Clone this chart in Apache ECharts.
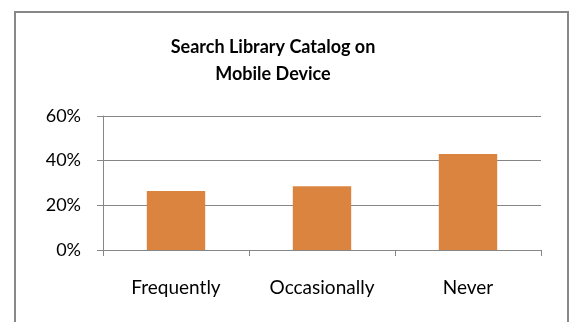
<!DOCTYPE html>
<html>
<head>
<meta charset="utf-8">
<script src="https://cdn.jsdelivr.net/npm/echarts@6/dist/echarts.min.js"></script>
<style>
  html, body { margin: 0; padding: 0; background: #fff; }
  #chart { width: 570px; height: 322px; }
</style>
</head>
<body>
<div id="chart"></div>
<script>
// Survey responses: how often the library catalog is searched from a mobile device
const categories = ['Frequently', 'Occasionally', 'Never'];
const shares = [26.4, 28.6, 43.0];
const yTicks = [0, 20, 40, 60];

const FONT = 'Lato, "Open Sans", sans-serif';
const chart = echarts.init(document.getElementById('chart'), null, { renderer: 'canvas' });

chart.setOption({
  animation: false,
  backgroundColor: '#ffffff',
  title: {
    text: 'Search Library Catalog on\nMobile Device',
    left: 268,
    top: 29,
    textAlign: 'center',
    textStyle: {
      fontFamily: FONT,
      fontWeight: 'bold',
      fontSize: 18,
      lineHeight: 27,
      color: '#000000'
    }
  },
  graphic: [{
    type: 'rect',
    shape: { x: 15, y: 12, width: 553, height: 330 },
    style: { fill: 'none', stroke: '#888888', lineWidth: 2 },
    silent: true
  }],
  grid: { left: 103, right: 29, top: 116, bottom: 72 },
  xAxis: {
    type: 'category',
    data: categories,
    axisLine: { show: true, lineStyle: { color: '#868686', width: 1 } },
    axisTick: { show: true, length: 6, lineStyle: { color: '#868686' } },
    axisLabel: { fontFamily: FONT, fontSize: 19, color: '#000000', margin: 28 },
    splitLine: { show: false }
  },
  yAxis: {
    type: 'value',
    min: yTicks[0],
    max: yTicks[yTicks.length - 1],
    interval: 20,
    axisLine: { show: true, lineStyle: { color: '#868686', width: 1 } },
    axisTick: { show: true, length: 6, lineStyle: { color: '#868686' } },
    axisLabel: { fontFamily: FONT, fontSize: 18, color: '#000000', margin: 22, formatter: v => v + '%' },
    splitLine: { show: true, lineStyle: { color: '#868686', width: 1 } }
  },
  series: [{
    type: 'bar',
    data: shares,
    barCategoryGap: '60%',
    itemStyle: { color: '#DB843F' }
  }]
});
</script>
</body>
</html>
